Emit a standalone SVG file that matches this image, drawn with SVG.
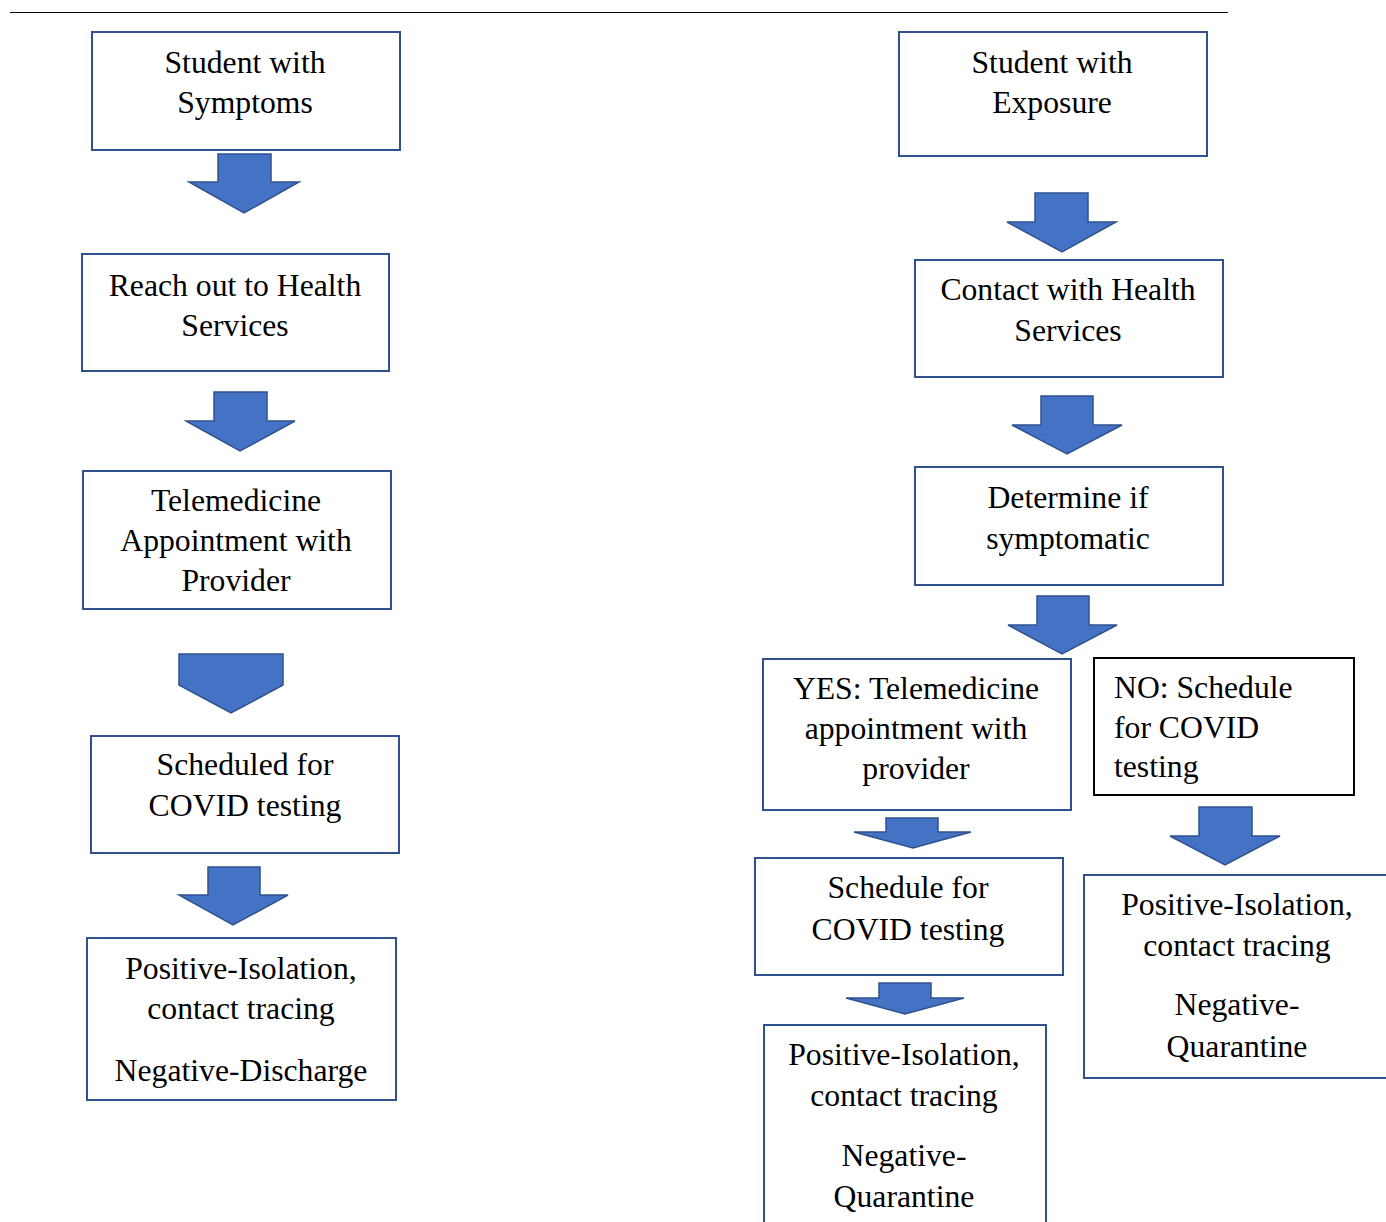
<svg xmlns="http://www.w3.org/2000/svg" width="1386" height="1222" viewBox="0 0 1386 1222">
<style>
.box{fill:#fff;stroke:#2F528F;stroke-width:2}
.bbox{fill:#fff;stroke:#000;stroke-width:2}
.arr{fill:#4472C4;stroke:#2F528F;stroke-width:1.5;stroke-linejoin:miter}
text{font-family:"Liberation Serif","Times New Roman",serif;font-size:31.7px;fill:#000}
.c{text-anchor:middle}
</style>
<rect width="1386" height="1222" fill="#fff"/>
<line x1="10" y1="12.5" x2="1228" y2="12.5" stroke="#000" stroke-width="1"/>
<g id="connectors">
<polygon class="arr" points="218,154 271,154 271,182 299,182 244,213 189,182 218,182"/>
<polygon class="arr" points="214,392 267,392 267,421 295,421 240,451 186,421 214,421"/>
<polygon class="arr" points="179,654 283,654 283,685 231,713 179,685"/>
<polygon class="arr" points="208,867 260,867 260,895 288,895 233,925 179,895 208,895"/>
<polygon class="arr" points="1035,193 1088,193 1088,222 1116,222 1062,252 1007,222 1035,222"/>
<polygon class="arr" points="1041,396 1093,396 1093,425 1122,425 1067,454 1012,425 1041,425"/>
<polygon class="arr" points="1037,596 1089,596 1089,625 1117,625 1062,654 1008,625 1037,625"/>
<polygon class="arr" points="886,818 938,818 938,832 971,832 913,848 854,832 886,832"/>
<polygon class="arr" points="1199,807 1252,807 1252,836 1280,836 1225,865 1170,836 1199,836"/>
<polygon class="arr" points="879,983 931,983 931,998 964,998 905,1014 846,998 879,998"/>
</g>
<g id="n1"><rect class="box" x="92" y="32" width="308" height="118"/>
<text class="c" x="245" y="73">Student with</text><text class="c" x="245" y="113">Symptoms</text></g>
<g id="n2"><rect class="box" x="82" y="254" width="307" height="117"/>
<text class="c" x="235" y="296">Reach out to Health</text><text class="c" x="235" y="336">Services</text></g>
<g id="n3"><rect class="box" x="83" y="471" width="308" height="138"/>
<text class="c" x="236" y="511">Telemedicine</text><text class="c" x="236" y="551">Appointment with</text><text class="c" x="236" y="591">Provider</text></g>
<g id="n4"><rect class="box" x="91" y="736" width="308" height="117"/>
<text class="c" x="245" y="775">Scheduled for</text><text class="c" x="245" y="816">COVID testing</text></g>
<g id="n5"><rect class="box" x="87" y="938" width="309" height="162"/>
<text class="c" x="241" y="979">Positive-Isolation,</text><text class="c" x="241" y="1019">contact tracing</text><text class="c" x="241" y="1081">Negative-Discharge</text></g>
<g id="r1"><rect class="box" x="899" y="32" width="308" height="124"/>
<text class="c" x="1052" y="73">Student with</text><text class="c" x="1052" y="113">Exposure</text></g>
<g id="r2"><rect class="box" x="915" y="260" width="308" height="117"/>
<text class="c" x="1068" y="300">Contact with Health</text><text class="c" x="1068" y="341">Services</text></g>
<g id="r3"><rect class="box" x="915" y="467" width="308" height="118"/>
<text class="c" x="1068" y="508">Determine if</text><text class="c" x="1068" y="549">symptomatic</text></g>
<g id="yes"><rect class="box" x="763" y="659" width="308" height="151"/>
<text class="c" x="916" y="699">YES: Telemedicine</text><text class="c" x="916" y="739">appointment with</text><text class="c" x="916" y="779">provider</text></g>
<g id="no"><rect class="bbox" x="1094" y="658" width="260" height="137"/>
<text x="1114" y="698">NO: Schedule</text><text x="1114" y="738">for COVID</text><text x="1114" y="777">testing</text></g>
<g id="sched"><rect class="box" x="755" y="858" width="308" height="117"/>
<text class="c" x="908" y="898">Schedule for</text><text class="c" x="908" y="940">COVID testing</text></g>
<g id="res-no"><rect class="box" x="1084" y="875" width="320" height="203"/>
<text class="c" x="1237" y="915">Positive-Isolation,</text><text class="c" x="1237" y="956">contact tracing</text><text class="c" x="1237" y="1015">Negative-</text><text class="c" x="1237" y="1057">Quarantine</text></g>
<g id="res-yes"><rect class="box" x="764" y="1025" width="282" height="220"/>
<text class="c" x="904" y="1065">Positive-Isolation,</text><text class="c" x="904" y="1106">contact tracing</text><text class="c" x="904" y="1166">Negative-</text><text class="c" x="904" y="1207">Quarantine</text></g>
</svg>
